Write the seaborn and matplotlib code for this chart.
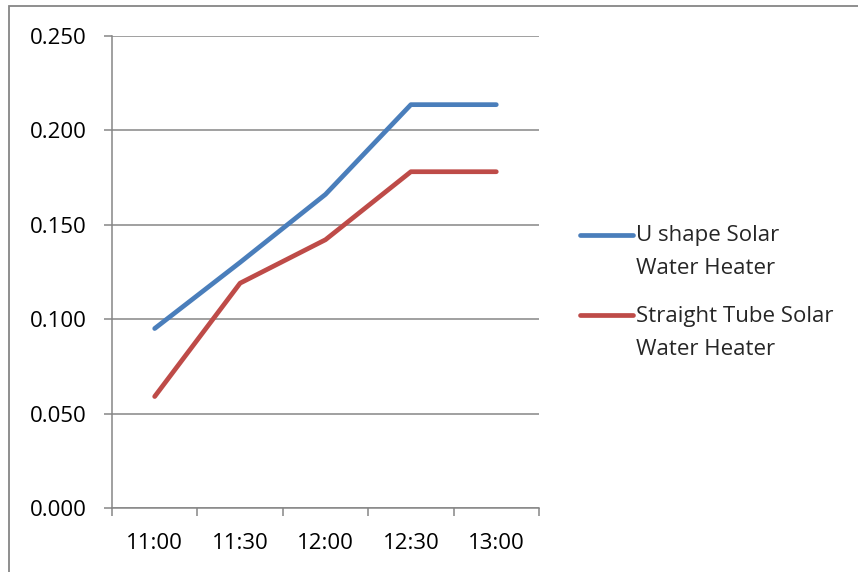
import matplotlib
matplotlib.use("Agg")
import matplotlib.pyplot as plt
import matplotlib.patches as mpatches
from matplotlib.legend_handler import HandlerLine2D
import seaborn as sns
import pandas as pd
import numpy as np

# Time points and measured values for the two heaters
times = ["11:00", "11:30", "12:00", "12:30", "13:00"]
u_shape = [0.095, 0.130, 0.166, 0.2135, 0.2135]
straight_tube = [0.059, 0.119, 0.142, 0.178, 0.178]
series_names = ["U shape Solar\nWater Heater", "Straight Tube Solar\nWater Heater"]
y_ticks = [0.000, 0.050, 0.100, 0.150, 0.200, 0.250]

df = pd.DataFrame({
    "time": list(range(len(times))) * 2,
    "value": u_shape + straight_tube,
    "series": [series_names[0]] * len(times) + [series_names[1]] * len(times),
})

sns.set_style("white")
plt.rcParams["font.family"] = ["Open Sans", "DejaVu Sans"]

grey = "#868686"
palette = {series_names[0]: "#4A7EBB", series_names[1]: "#BE4B48"}
FONT = 16
LINESPACING = 1.76
LW = 3.4


class FirstLineHandler(HandlerLine2D):
    """Legend line aligned with the first line of a two-line label."""

    def create_artists(self, legend, orig_handle, xdescent, ydescent,
                       width, height, fontsize, trans):
        artists = super().create_artists(legend, orig_handle, xdescent,
                                         ydescent, width, height, fontsize,
                                         trans)
        shift = 0.45 * LINESPACING * fontsize
        for a in artists:
            a.set_ydata(np.asarray(a.get_ydata(), dtype=float) + shift)
        return artists


fig = plt.figure(figsize=(8.58, 5.72), dpi=100)
ax = fig.add_axes([0.1305, 0.1119, 0.4977, 0.8257])

sns.lineplot(data=df, x="time", y="value", hue="series", palette=palette,
             linewidth=LW, ax=ax, legend=True, solid_capstyle="round",
             solid_joinstyle="round")

ax.set_xlim(-0.5, len(times) - 0.5)
ax.set_ylim(0, 0.25)
ax.set_yticks(y_ticks)
ax.set_yticklabels([f"{v:.3f}" for v in y_ticks])
ax.set_xticks(range(len(times)))
ax.set_xticklabels(times)
ax.set_xticks(np.arange(-0.5, len(times), 1.0), minor=True)
ax.set_xlabel("")
ax.set_ylabel("")

ax.grid(axis="y", color=grey, linewidth=1.1)
ax.set_axisbelow(True)
for side in ["top", "right"]:
    ax.spines[side].set_visible(False)
for side in ["left", "bottom"]:
    ax.spines[side].set_color(grey)
    ax.spines[side].set_linewidth(1.1)

ax.tick_params(axis="y", which="major", direction="out", length=6, width=1.1,
               color=grey, pad=12, labelsize=FONT, labelcolor="black", left=True)
ax.tick_params(axis="x", which="major", length=0, pad=18, labelsize=FONT,
               labelcolor="black")
ax.tick_params(axis="x", which="minor", direction="out", length=6, width=1.1,
               color=grey, bottom=True)

handles, labels = ax.get_legend_handles_labels()
for h in handles:
    h.set_linewidth(LW)
    h.set_solid_capstyle("round")
leg = ax.legend(handles, labels, loc="center left",
                bbox_to_anchor=(0.676, 0.489), bbox_transform=fig.transFigure,
                frameon=False, fontsize=FONT, handlelength=2.37,
                handletextpad=0.15, labelspacing=1.2, borderpad=0,
                borderaxespad=0,
                handler_map={type(handles[0]): FirstLineHandler()})
for t in leg.get_texts():
    t.set_linespacing(LINESPACING)

# Outer chart frame
fig.patches.append(mpatches.Rectangle((9 / 858, -0.01), 1.0, 1 - 6 / 572 + 0.01,
                                      transform=fig.transFigure, fill=False,
                                      edgecolor=grey, linewidth=1.3))

fig.savefig("out.png", dpi=100)
